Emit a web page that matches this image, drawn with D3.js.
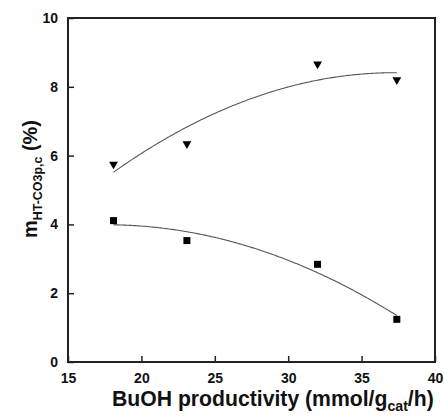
<!DOCTYPE html>
<html>
<head>
<meta charset="utf-8">
<script src="https://cdn.jsdelivr.net/npm/d3@7"></script>
<style>
  html, body { margin: 0; padding: 0; background: #fff; }
  svg { display: block; font-family: "Liberation Sans", Arial, sans-serif; }
</style>
</head>
<body>
<svg id="chart" width="444" height="416"></svg>
<script>
// BuOH productivity (mmol/g_cat/h)
const productivity = [18.1, 23.1, 32.0, 37.4];
// m_HT-CO3p,c (%) for the two series
const triangleValues = [5.75, 6.34, 8.66, 8.20];
const squareValues = [4.11, 3.53, 2.84, 1.24];
const xTicks = [15, 20, 25, 30, 35, 40];
const yTicks = [0, 2, 4, 6, 8, 10];

const svg = d3.select("#chart");
const margin = { left: 68, right: 9, top: 18, bottom: 54 };
const W = 444, H = 416;

const x = d3.scaleLinear().domain([15, 40]).range([margin.left, W - margin.right]);
const y = d3.scaleLinear().domain([0, 10]).range([H - margin.bottom, margin.top]);

// least-squares quadratic trend through a series
function quadFit(xs, ys) {
  const n = xs.length;
  const S = [0, 0, 0, 0, 0], T = [0, 0, 0];
  for (let i = 0; i < n; i++) {
    let p = 1;
    for (let k = 0; k < 5; k++) { S[k] += p; if (k < 3) T[k] += ys[i] * p; p *= xs[i]; }
  }
  const A = [[S[0], S[1], S[2], T[0]], [S[1], S[2], S[3], T[1]], [S[2], S[3], S[4], T[2]]];
  for (let c = 0; c < 3; c++) {
    for (let r = c + 1; r < 3; r++) {
      const f = A[r][c] / A[c][c];
      for (let k = c; k < 4; k++) A[r][k] -= f * A[c][k];
    }
  }
  const b = [0, 0, 0];
  for (let r = 2; r >= 0; r--) {
    let s = A[r][3];
    for (let k = r + 1; k < 3; k++) s -= A[r][k] * b[k];
    b[r] = s / A[r][r];
  }
  return v => b[0] + b[1] * v + b[2] * v * v;
}

const xs = d3.range(productivity[0], productivity[productivity.length - 1] + 0.001, 0.1);
const line = d3.line().x(d => x(d[0])).y(d => y(d[1]));

[triangleValues, squareValues].forEach(vals => {
  const f = quadFit(productivity, vals);
  svg.append("path")
    .attr("d", line(xs.map(v => [v, f(v)])))
    .attr("fill", "none")
    .attr("stroke", "#555")
    .attr("stroke-width", 1.1);
});

// markers
svg.append("g").selectAll("rect")
  .data(productivity.map((p, i) => [p, squareValues[i]]))
  .join("rect")
  .attr("x", d => x(d[0]) - 3.5)
  .attr("y", d => y(d[1]) - 3.5)
  .attr("width", 7).attr("height", 7)
  .attr("fill", "#000");

const tri = d3.symbol().type(d3.symbolTriangle).size(34);
svg.append("g").selectAll("path")
  .data(productivity.map((p, i) => [p, triangleValues[i]]))
  .join("path")
  .attr("d", tri)
  .attr("transform", d => `translate(${x(d[0])},${y(d[1])}) rotate(180)`)
  .attr("fill", "#000");

// axes with inward ticks
const xAxis = svg.append("g")
  .attr("transform", `translate(0,${y(0)})`)
  .call(d3.axisBottom(x).tickValues(xTicks).tickSizeInner(-6).tickSizeOuter(0).tickPadding(11));
const yAxis = svg.append("g")
  .attr("transform", `translate(${x(15)},0)`)
  .call(d3.axisLeft(y).tickValues(yTicks).tickSizeInner(-6).tickSizeOuter(0).tickPadding(10));

[xAxis, yAxis].forEach(g => {
  g.select(".domain").remove();
  g.selectAll("line").attr("stroke", "#222").attr("stroke-width", 1.5);
  g.selectAll("text")
    .attr("font-family", "Liberation Sans, Arial, sans-serif")
    .attr("font-size", 14).attr("font-weight", "bold").attr("fill", "#111");
});

// frame
svg.append("rect")
  .attr("x", x(15)).attr("y", y(10))
  .attr("width", x(40) - x(15)).attr("height", y(0) - y(10))
  .attr("fill", "none").attr("stroke", "#222").attr("stroke-width", 2);

// scale a title's font sizes so that it spans the given length
function fitTitle(text, length) {
  const w = text.node().getComputedTextLength();
  const k = length / w;
  text.selectAll("tspan").each(function () {
    const t = d3.select(this);
    t.attr("font-size", +t.attr("font-size") * k);
    t.attr("dy", +t.attr("dy") * k);
  });
}

// axis titles
const xt = svg.append("text")
  .attr("x", 112).attr("y", 406)
  .attr("text-anchor", "start")
  .attr("font-weight", "bold").attr("fill", "#111");
xt.append("tspan").attr("font-size", 21).attr("dy", 0).text("BuOH productivity (mmol/g");
xt.append("tspan").attr("font-size", 14).attr("dy", 5).text("cat");
xt.append("tspan").attr("font-size", 21).attr("dy", -5).text("/h)");
fitTitle(xt, 322);

const yt = svg.append("text")
  .attr("transform", `translate(37,238) rotate(-90)`)
  .attr("text-anchor", "start")
  .attr("font-weight", "bold").attr("fill", "#111");
yt.append("tspan").attr("font-size", 20).attr("dy", 0).text("m");
yt.append("tspan").attr("font-size", 12.5).attr("dy", 5).text("HT-CO3p,c");
yt.append("tspan").attr("font-size", 20).attr("dy", -5).text(" (%)");
fitTitle(yt, 118);
</script>
</body>
</html>
